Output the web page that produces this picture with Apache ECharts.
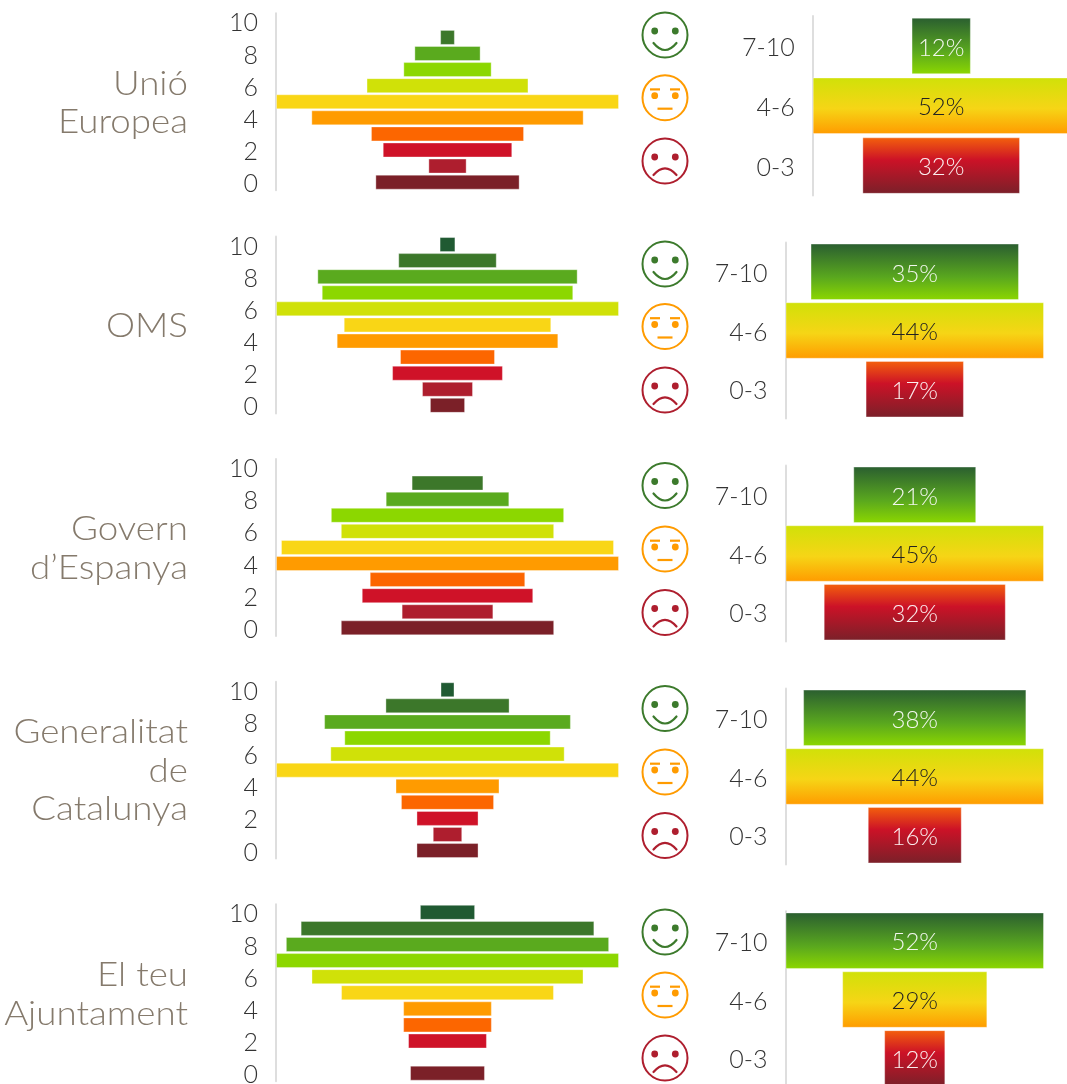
<!DOCTYPE html>
<html><head><meta charset="utf-8">
<style>html,body{margin:0;padding:0;background:#fff}#c{width:1067px;height:1084px}</style>
<script src="https://cdn.jsdelivr.net/npm/echarts@6/dist/echarts.min.js"></script>
</head><body><div id="c"></div>
<script>
const panelNames = ['Unió\nEuropea','OMS','Govern\nd’Espanya','Generalitat\nde\nCatalunya','El teu\nAjuntament'];
const scoreLabels = ['0','1','2','3','4','5','6','7','8','9','10'];
const bandLabels = ['0-3','4-6','7-10'];
const scoreColors = ['#7b2028','#ae1e2e','#cf1228','#fc6600','#ff9b00','#f9d616','#d0e108','#8cd700','#5aaa1e','#3c772a','#205a32'];
// share of answers per score 0..10
const scoresUE  = [9.8,2.6,8.8,10.4,18.5,23.3,11,6,4.5,1,0];
const scoresOMS = [2,2.9,6.3,5.4,12.6,11.8,19.5,14.3,14.8,5.6,0.9];
const scoresGov = [10.7,4.6,8.6,7.8,17.2,16.7,10.7,11.7,6.2,3.6,0];
const scoresGen = [4,1.9,4,6,6.7,22.1,15.1,13.3,15.9,8,0.9];
const scoresAj  = [3.8,0,4,4.5,4.5,10.8,13.8,17.4,16.4,14.9,2.8];
// share per band 0-3, 4-6, 7-10
const bandsUE  = [31.9,52,12];
const bandsOMS = [16.7,43.9,35.4];
const bandsGov = [31.7,45,21.4];
const bandsGen = [16,44,38];
const bandsAj  = [12.3,29.2,52];
const allScores = [scoresUE,scoresOMS,scoresGov,scoresGen,scoresAj];
const allBands = [bandsUE,bandsOMS,bandsGov,bandsGen,bandsAj];

// layout
const pyrTop = [13.3,236.5,459,681.7,904.3];
const barTop = [16,242.5,465.5,688.5,911.3];
const barH = [179.5,176,176,176,176.5];
const barLeft = [812.7,785.5,785.5,785.5,785.5];
const barW = [257,258.5,258.5,258.5,258.5];
const nameY = [103,326,548.5,771,994.5];
const faceY = [[35,97.7,161],[264,326.5,390],[485.5,549,612.5],[708.5,772,835.5],[932,995,1058]];

const FONT = 'Lato';
const grad = stops => ({type:'linear',x:0,y:0,x2:0,y2:1,colorStops:stops.map(s=>({offset:s[0],color:s[1]}))});
const bandFill = [
  grad([[0,'#f4610c'],[0.4,'#cc1227'],[1,'#7a2029']]),
  grad([[0,'#d0e108'],[0.55,'#f6d516'],[1,'#ff9b00']]),
  grad([[0,'#2a5e30'],[0.6,'#5aa81e'],[1,'#8cd700']])
];
const bandText = ['#fbeeee','#222','#f2f7ee'];

const grid=[],xAxis=[],yAxis=[],series=[],graphic=[];
allScores.forEach((vals,p)=>{
  const m = Math.max(...vals);
  let g = grid.length;
  grid.push({left:276,width:343,top:pyrTop[p],height:176.9,outerBoundsMode:'none'});
  xAxis.push({gridIndex:g,type:'value',min:0,max:m,show:false});
  yAxis.push({gridIndex:g,type:'category',data:scoreLabels,offset:1,
    axisTick:{show:false},
    axisLine:{show:true,lineStyle:{color:'#dedede',width:2}},
    axisLabel:{interval:1,margin:17,color:'#333',fontSize:25,fontFamily:FONT,fontWeight:300,verticalAlign:'top',lineHeight:4}});
  series.push({type:'bar',stack:'s'+p,xAxisIndex:g,yAxisIndex:g,silent:true,barWidth:15,
    itemStyle:{color:'transparent'},data:vals.map(v=>(m-v)/2)});
  series.push({type:'bar',stack:'s'+p,xAxisIndex:g,yAxisIndex:g,silent:true,barWidth:15,
    data:vals.map((v,i)=>({value:v,itemStyle:{color:scoreColors[i],borderColor:'rgba(255,255,255,0.35)',borderWidth:v>0?1:0}}))});

  const b = allBands[p], bm = Math.max(...b);
  g = grid.length;
  grid.push({left:barLeft[p],width:barW[p],top:barTop[p],height:barH[p],outerBoundsMode:'none'});
  xAxis.push({gridIndex:g,type:'value',min:0,max:bm,show:false});
  yAxis.push({gridIndex:g,type:'category',data:bandLabels,offset:1,
    axisTick:{show:false},
    axisLine:{show:true,lineStyle:{color:'#dedede',width:2}},
    axisLabel:{interval:0,margin:17,color:'#333',fontSize:25,fontFamily:FONT,fontWeight:300,verticalAlign:'top',lineHeight:4}});
  series.push({type:'bar',stack:'b'+p,xAxisIndex:g,yAxisIndex:g,silent:true,barWidth:56.5,
    itemStyle:{color:'transparent'},data:b.map(v=>(bm-v)/2)});
  series.push({type:'bar',stack:'b'+p,xAxisIndex:g,yAxisIndex:g,silent:true,barWidth:56.5,
    data:b.map((v,i)=>({value:v,
      itemStyle:{color:bandFill[i],borderColor:'rgba(255,255,255,0.35)',borderWidth:1},
      label:{show:true,position:'inside',offset:[0,2],formatter:o=>Math.round(o.value)+'%',color:bandText[i],fontSize:24,fontFamily:FONT,fontWeight:300}}))});

  graphic.push({type:'text',x:188,y:nameY[p],scaleX:1.08,silent:true,style:{
    text:panelNames[p],align:'right',verticalAlign:'middle',fill:'#857a6c',
    font:'300 34px '+FONT,lineHeight:38.5}});

  faceY[p].forEach((cy,k)=>graphic.push(face(665,cy,2-k)));
});

function face(x,y,kind){
  const col=['#ae1e2e','#ff9b00','#3c7a2c'][kind];
  const ch=[{type:'circle',shape:{cx:0,cy:0,r:22.5},style:{fill:'none',stroke:col,lineWidth:2}}];
  const ey=kind===1?-2:-4;
  [-10.3,10.3].forEach(ex=>ch.push({type:'circle',shape:{cx:ex,cy:ey,r:3.4},style:{fill:col}}));
  const line={stroke:col,lineWidth:2.2,fill:'none'};
  if(kind===2) ch.push({type:'bezierCurve',shape:{x1:-11.5,y1:8,x2:11.5,y2:8,cpx1:0,cpy1:22},style:{...line,lineCap:'round'}});
  if(kind===0) ch.push({type:'bezierCurve',shape:{x1:-11.5,y1:14,x2:11.5,y2:14,cpx1:0,cpy1:0.6},style:{...line,lineCap:'round'}});
  if(kind===1){
    ch.push({type:'line',shape:{x1:-15,y1:-8.3,x2:-5,y2:-8.3},style:line});
    ch.push({type:'line',shape:{x1:5,y1:-8.3,x2:15,y2:-8.3},style:line});
    ch.push({type:'line',shape:{x1:-7.5,y1:11,x2:7.5,y2:11},style:line});
  }
  return {type:'group',x,y,silent:true,children:ch};
}

const chart = echarts.init(document.getElementById('c'),null,{renderer:'canvas'});
chart.setOption({animation:false,backgroundColor:'#fff',grid,xAxis,yAxis,series,graphic});
</script></body></html>
